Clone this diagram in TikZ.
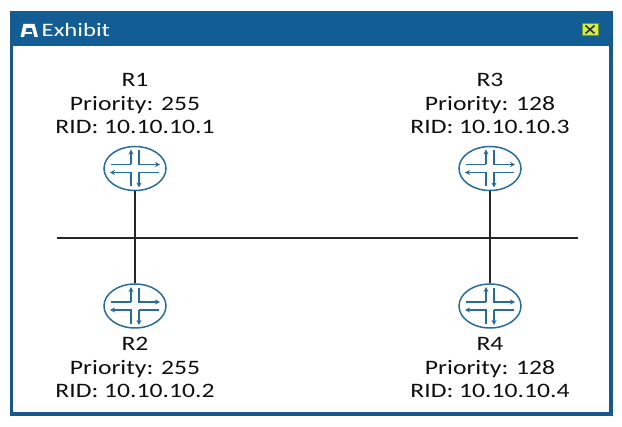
\documentclass[tikz,border=0pt]{standalone}
\usepackage{fontspec}
\newfontfamily\lblfont[FakeStretch=1.25]{Carlito}
\newfontfamily\ttlfont[FakeStretch=1.3]{Carlito}
\definecolor{hdrblue}{RGB}{18,94,148}
\definecolor{brdblue}{RGB}{24,88,138}
\definecolor{rtrblue}{RGB}{40,108,156}
\definecolor{closefill}{RGB}{205,240,80}
\definecolor{closeedge}{RGB}{120,150,30}
\definecolor{txt}{RGB}{15,15,15}
\tikzset{
  lbl/.style={font=\lblfont\fontsize{20.5}{23.5}\selectfont, text=txt, anchor=base, inner sep=0pt},
  router/.style={ellipse, draw=rtrblue, line width=1.5pt, fill=white, minimum width=62pt, minimum height=44pt, inner sep=0pt},
  rline/.style={draw=rtrblue, line width=1.5pt},
  rarrow/.style={rline, -{Stealth[length=5pt,width=5pt]}},
  link/.style={draw=black!85, line width=1.5pt},
}
\usetikzlibrary{shapes.geometric,arrows.meta}
\newcommand\rtrarrows[1]{%
  \begin{scope}[shift={(#1.center)}]
    \draw[rarrow] (-4,-4) -- (-4,-19);
    \draw[rline] (-4,-4) -- (-24,-4);
    \draw[rarrow] (4,-18) -- (4,-4) -- (25,-4);
    \draw[rarrow] (4,4) -- (4,19);
    \draw[rline] (4,4) -- (24,4);
    \draw[rarrow] (-4,18) -- (-4,4) -- (-25,4);
  \end{scope}}
\begin{document}
\begin{tikzpicture}[x=1pt,y=-1pt]
  \useasboundingbox (0,0) rectangle (622,427);
  \fill[white] (0,0) rectangle (622,427);
  % window
  \fill[brdblue] (10,11) rectangle (613,416);
  \fill[hdrblue] (11,12) rectangle (612,46);
  \fill[white] (13,46) rectangle (609,412);
  % title icon
  \fill[white] (23.5,24) -- (34.5,24) -- (38,37) -- (34.5,37) -- (32,28) -- (26.5,28) -- (24,37) -- (20.5,37) -- cycle;
  \fill[white] (22.5,32) rectangle (31.5,34.5);
  \node[font=\ttlfont\fontsize{19}{22}\selectfont, text=white, anchor=base west, inner sep=0pt] (title) at (41.5,37) {Exhibit};
  % close icon
  \node[draw=closeedge, fill=closefill, line width=1pt, minimum width=16pt, minimum height=12pt, inner sep=0pt] (close) at (590,29.5) {};
  \draw[line width=1.6pt, draw=black!80] ([shift={(4,2.5)}]close.north west) -- ([shift={(-4,-2.5)}]close.south east);
  \draw[line width=1.6pt, draw=black!80] ([shift={(-4,2.5)}]close.north east) -- ([shift={(4,-2.5)}]close.south west);
  % bus
  \coordinate (busL) at (57,238);
  \coordinate (busR) at (578,238);
  \draw[link] (busL) -- (busR);
  % routers
  \node[router] (R1) at (135,168.5) {};
  \node[router] (R2) at (135,306) {};
  \node[router] (R3) at (490,168.5) {};
  \node[router] (R4) at (490,306) {};
  \draw[link] (R1) -- (R2);
  \draw[link] (R3) -- (R4);
  \rtrarrows{R1}
  \rtrarrows{R2}
  \rtrarrows{R3}
  \rtrarrows{R4}
  % labels
  \node[lbl] (r1a) at (135,87) {R1};
  \node[lbl] (r1b) at (135,110.5) {Priority: 255};
  \node[lbl] (r1c) at (135,134) {RID: 10.10.10.1};
  \node[lbl] (r3a) at (490,87) {R3};
  \node[lbl] (r3b) at (490,110.5) {Priority: 128};
  \node[lbl] (r3c) at (490,134) {RID: 10.10.10.3};
  \node[lbl] (r2a) at (135,351) {R2};
  \node[lbl] (r2b) at (135,374.5) {Priority: 255};
  \node[lbl] (r2c) at (135,398) {RID: 10.10.10.2};
  \node[lbl] (r4a) at (490,351) {R4};
  \node[lbl] (r4b) at (490,374.5) {Priority: 128};
  \node[lbl] (r4c) at (490,398) {RID: 10.10.10.4};
\end{tikzpicture}
\end{document}
